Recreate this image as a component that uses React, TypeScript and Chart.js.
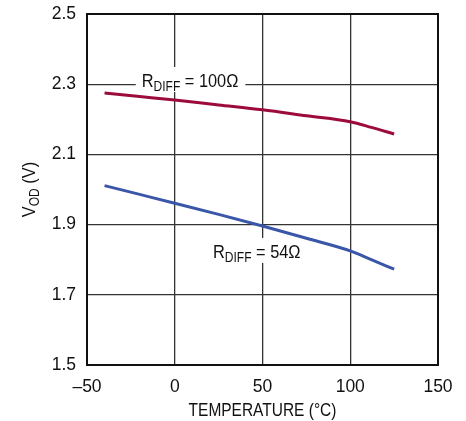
import React, { useEffect, useRef } from "react";
import { Chart, registerables } from "chart.js";

Chart.register(...registerables);

// ---- data ----
const temperatures = [-40, -20, 0, 25, 50, 75, 100, 112, 125];
const vod100 = [2.275, 2.265, 2.255, 2.241, 2.227, 2.21, 2.193, 2.177, 2.158];
const vod54 = [2.011, 1.986, 1.961, 1.929, 1.896, 1.861, 1.825, 1.8, 1.773];
const xTickValues = [-50, 0, 50, 100, 150];
const yTickValues = [1.5, 1.7, 1.9, 2.1, 2.3, 2.5];
const seriesNames = ["RDIFF = 100Ω", "RDIFF = 54Ω"];

const FONT = "'Liberation Sans', Arial, Helvetica, sans-serif";
const TEXT = "#111111";
const W = 466;
const H = 421;
const SQUEEZE = 0.86;

type Part = [string, boolean];

function drawParts(ctx: CanvasRenderingContext2D, x: number, y: number, parts: Part[], main: number, sub: number, subOff: number, measureOnly = false) {
  let cx = x;
  for (const [t, isSub] of parts) {
    ctx.font = `${isSub ? sub : main}px ${FONT}`;
    if (!measureOnly) ctx.fillText(t, cx, y + (isSub ? subOff : 0));
    cx += ctx.measureText(t).width;
  }
  return cx - x;
}

const labelPlugin = {
  id: "labels",
  beforeDatasetsDraw(chart: any) {
    const ctx: CanvasRenderingContext2D = chart.ctx;
    const xs = chart.scales.x;
    const ys = chart.scales.y;
    const items: { parts: Part[]; t: number; v: number }[] = [
      { parts: [["R", false], ["DIFF", true], [" = 100Ω", false]], t: -18.8, v: 2.292 },
      { parts: [["R", false], ["DIFF", true], [" = 54Ω", false]], t: 21.8, v: 1.805 },
    ];
    ctx.save();
    ctx.textBaseline = "alphabetic";
    ctx.textAlign = "left";
    for (const it of items) {
      const px = xs.getPixelForValue(it.t);
      const py = ys.getPixelForValue(it.v);
      const w = drawParts(ctx, 0, 0, it.parts, 19, 14, 4, true) * SQUEEZE;
      ctx.fillStyle = "#ffffff";
      ctx.fillRect(px - 6, py - 20, w + 13, 25);
      ctx.save();
      ctx.translate(px, py);
      ctx.scale(SQUEEZE, 1);
      ctx.fillStyle = TEXT;
      drawParts(ctx, 0, 0, it.parts, 19, 14, 4);
      ctx.restore();
    }
    ctx.restore();
  },
  afterDraw(chart: any) {
    const ctx: CanvasRenderingContext2D = chart.ctx;
    const a = chart.chartArea;
    ctx.save();
    ctx.strokeStyle = "#111111";
    ctx.lineWidth = 2;
    ctx.strokeRect(a.left, a.top, a.right - a.left, a.bottom - a.top);
    // x title
    ctx.save();
    ctx.fillStyle = TEXT;
    ctx.font = `18px ${FONT}`;
    ctx.textAlign = "center";
    ctx.textBaseline = "alphabetic";
    ctx.translate((a.left + a.right) / 2, 416);
    ctx.scale(SQUEEZE, 1);
    ctx.fillText("TEMPERATURE (°C)", 0, 0);
    ctx.restore();
    // y title rotated
    const parts: Part[] = [["V", false], ["OD", true], [" (V)", false]];
    ctx.textAlign = "left";
    ctx.fillStyle = TEXT;
    const w = drawParts(ctx, 0, 0, parts, 19, 14, 4, true);
    ctx.translate(35, (a.top + a.bottom) / 2);
    ctx.rotate(-Math.PI / 2);
    ctx.scale(SQUEEZE, 1);
    drawParts(ctx, -w / 2, 0, parts, 19, 14, 4);
    ctx.restore();
  },
};

export default function App() {
  const ref = useRef<HTMLCanvasElement | null>(null);
  useEffect(() => {
    if (!ref.current) return;
    const chart = new Chart(ref.current, {
      type: "line",
      data: {
        datasets: [
          {
            label: seriesNames[0],
            data: temperatures.map((t, i) => ({ x: t, y: vod100[i] })),
            borderColor: "#9c0a3e",
            borderWidth: 3,
            pointRadius: 0,
            cubicInterpolationMode: "monotone",
            fill: false,
          },
          {
            label: seriesNames[1],
            data: temperatures.map((t, i) => ({ x: t, y: vod54[i] })),
            borderColor: "#3a56a8",
            borderWidth: 3,
            pointRadius: 0,
            cubicInterpolationMode: "monotone",
            fill: false,
          },
        ],
      },
      options: {
        animation: false,
        responsive: false,
        devicePixelRatio: 1,
        layout: { padding: { left: 0, top: 14, right: 28, bottom: 0 } },
        plugins: { legend: { display: false }, tooltip: { enabled: false }, title: { display: false } },
        scales: {
          x: {
            type: "linear",
            min: -50,
            max: 150,
            afterFit: (s: any) => { s.height = H - 365; s.paddingLeft = 0; s.paddingRight = 0; },
            afterBuildTicks: (s: any) => { s.ticks = xTickValues.map((v) => ({ value: v })); },
            grid: { color: "#333333", lineWidth: 1.3, drawTicks: false },
            border: { display: false },
            ticks: {
              padding: 12,
              maxRotation: 0,
              autoSkip: false,
              color: TEXT,
              font: { family: FONT, size: 17.5 },
              callback: (v: any) => (Number(v) < 0 ? "–" + Math.abs(Number(v)) : String(v)),
            },
          },
          y: {
            type: "linear",
            min: 1.5,
            max: 2.5,
            afterFit: (s: any) => { s.width = 87; s.paddingTop = 0; s.paddingBottom = 0; },
            afterBuildTicks: (s: any) => { s.ticks = yTickValues.map((v) => ({ value: v })); },
            grid: { color: "#333333", lineWidth: 1.3, drawTicks: false },
            border: { display: false },
            ticks: {
              padding: 11,
              autoSkip: false,
              color: TEXT,
              font: { family: FONT, size: 17.5 },
              callback: (v: any) => Number(v).toFixed(1),
            },
          },
        },
      },
      plugins: [labelPlugin],
    });
    return () => chart.destroy();
  }, []);
  return (
    <div style={{ position: "absolute", left: 0, top: 0, width: W, height: H, background: "#fff" }}>
      <canvas ref={ref} width={W} height={H} style={{ display: "block", width: W, height: H }} />
    </div>
  );
}
